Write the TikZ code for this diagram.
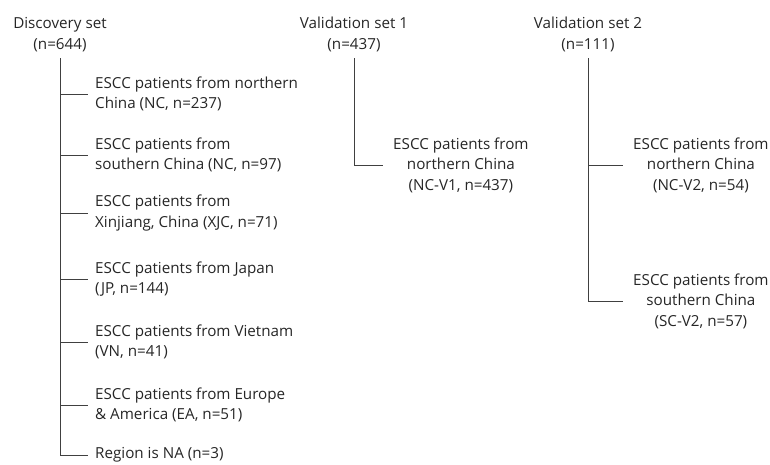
\documentclass[tikz,border=0pt]{standalone}
\usepackage{fontspec}
\setmainfont{Open Sans}
\usepackage{tikz}

\begin{document}
\begin{tikzpicture}[x=1pt,y=1pt]
\tikzset{every node/.style={font=\fontsize{15.2}{20.5}\selectfont, text=black!85}}
\tikzset{head/.style={anchor=south, align=center, inner sep=6pt}}
\tikzset{leaf/.style={anchor=west, align=left, inner xsep=7pt}}
\tikzset{vleaf/.style={anchor=west, align=center, inner xsep=10pt}}
\tikzset{branch/.style={draw=black!75, line width=0.8pt}}
\useasboundingbox (0,0) rectangle (770,-464);
% discovery set
\node [head] (disc) at (60,-58) {Discovery set\\(n=644)};
\node [leaf] (nc) at (88,-94) {ESCC patients from northern\\China (NC, n=237)};
\node [leaf] (sc) at (88,-155) {ESCC patients from\\southern China (NC, n=97)};
\node [leaf] (xjc) at (88,-213) {ESCC patients from\\Xinjiang, China (XJC, n=71)};
\node [leaf] (jp) at (88,-279) {ESCC patients from Japan\\(JP, n=144)};
\node [leaf] (vn) at (88,-342) {ESCC patients from Vietnam\\(VN, n=41)};
\node [leaf] (ea) at (88,-405) {ESCC patients from Europe\\\& America (EA, n=51)};
\node [leaf] (na) at (88,-455) {Region is NA (n=3)};
\draw [branch] (disc.south) |- (na.west);
\foreach \n in {nc,sc,xjc,jp,vn,ea}
  \draw [branch] (disc.south |- \n.west) -- (\n.west);
% validation set 1
\node [head] (val1) at (354,-58) {Validation set 1\\(n=437)};
\node [vleaf] (ncv1) at (383,-165) {ESCC patients from\\northern China\\(NC-V1, n=437)};
\draw [branch] (val1.south) |- (ncv1.west);
% validation set 2
\node [head] (val2) at (588,-58) {Validation set 2\\(n=111)};
\node [vleaf] (ncv2) at (623,-165) {ESCC patients from\\northern China\\(NC-V2, n=54)};
\node [vleaf] (scv2) at (623,-301) {ESCC patients from\\southern China\\(SC-V2, n=57)};
\draw [branch] (val2.south) |- (scv2.west);
\draw [branch] (val2.south |- ncv2.west) -- (ncv2.west);
\end{tikzpicture}
\end{document}
